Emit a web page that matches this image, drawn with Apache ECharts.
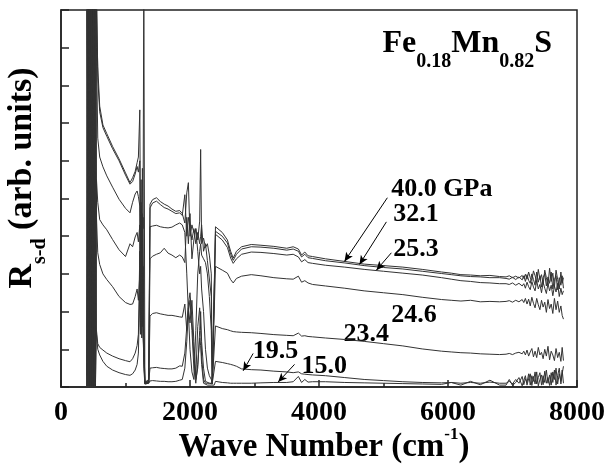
<!DOCTYPE html>
<html><head><meta charset="utf-8">
<script src="https://cdn.jsdelivr.net/npm/echarts@6/dist/echarts.min.js"></script>
<style>html,body{margin:0;padding:0;background:#fff}#c{width:608px;height:464px}</style>
</head><body><div id="c"></div>
<script>
// ---- data (wave number in cm^-1, reflectance in arbitrary units) ----
const waves = [
  400,415,430,445,460,475,490,505,520,535,550,
  570,600,650,710,800,900,1000,1070,1110,1150,1180,1200,
  1222,1232,1242,1252,1262,1272,1284,1300,1330,1360,
  1380,1420,1480,1540,1600,1660,1720,1780,1840,
  1880,1920,1950,1975,2000,2030,2060,2090,2120,2150,2165,2180,2210,2240,2270,2300,2330,2345,2375,2395,
  2420,2500,2580,2630,2670,2720,2800,2950,3100,3300,3500,3600,3680,3730,3780,3830,3900,4100,4400,4700,
  5000,5300,5600,5900,6050,6200,6350,6500,6650,6800,
  6900,6950,7000,7050,7100,7150,7175,7200,7225,7250,7275,7300,7325,7350,7375,7400,
  7425,7450,7475,7500,7525,7550,7575,7600,7625,7650,7675,7700,7725,7750,7770,7790
];
const p40_0 = [
  0,11,0.5,11,0,11,1,11,0,11,11,
  8.5,7.45,6.95,6.72,6.38,6.05,5.68,5.42,5.55,5.72,5.95,6.1,
  7.35,4.0,5.5,3.2,5.8,4.2,11,0.1,0.1,0.15,
  4.85,4.97,5.02,4.92,4.85,4.8,4.72,4.66,4.68,
  4.6,4.35,5.15,5.42,4.0,4.3,4.1,4.2,3.9,4.4,6.3,3.8,3.95,3.7,3.8,3.5,3.0,0.1,0.1,4.25,
  4.22,4.1,3.9,3.6,3.42,3.6,3.72,3.78,3.76,3.73,3.68,3.72,3.66,3.5,3.58,3.48,3.46,3.4,3.33,3.26,
  3.22,3.18,3.12,3.05,3.02,2.98,2.97,2.95,2.96,2.93,
  2.92,2.95,2.9,2.94,2.89,2.96,2.88,2.99,2.86,3.05,2.9,2.82,3.08,2.95,2.78,3.12,
  2.85,2.98,2.72,3.1,2.9,2.7,3.15,2.8,3.02,2.65,3.1,2.85,2.6,3.05,2.75,2.9
];
const p32_1 = [
  11,0,11,0,11,0.3,11,0,11,0,11,
  8.2,7.3,6.88,6.65,6.32,6.0,5.62,5.38,5.45,5.65,5.85,5.7,
  6.0,2.5,4.8,1.8,4.6,2.2,1.3,0.12,0.12,0.2,
  4.75,4.88,4.93,4.84,4.76,4.72,4.66,4.6,4.62,
  4.55,5.1,4.0,4.5,4.2,3.9,4.2,3.8,4.1,3.8,4.0,4.3,3.6,3.8,3.35,3.4,2.4,0.08,0.08,4.13,
  4.12,4.0,3.82,3.52,3.36,3.52,3.66,3.72,3.71,3.68,3.63,3.66,3.6,3.45,3.52,3.43,3.41,3.35,3.29,3.22,
  3.17,3.13,3.07,3.01,2.98,2.95,2.93,2.92,2.9,2.9,
  2.88,2.86,2.91,2.85,2.92,2.84,2.95,2.8,2.98,2.83,2.75,3.0,2.85,2.7,3.05,2.78,
  2.95,2.65,2.9,3.0,2.68,2.92,2.75,3.05,2.6,2.85,2.95,2.58,2.9,2.7,2.95,2.62
];
const p25_3 = [
  0,11,0,11,0.2,11,0,11,0.5,11,9,
  6.6,6.1,5.84,5.6,5.3,4.98,4.74,4.62,4.9,5.12,5.2,5.05,
  4.8,1.6,4.2,2.0,3.9,1.5,1.5,0.1,0.1,0.12,
  4.25,4.27,4.29,4.25,4.23,4.22,4.24,4.3,4.35,
  4.3,4.1,3.0,2.0,1.0,0.4,0.2,1.5,3.0,3.6,3.8,3.5,3.4,3.3,3.0,2.4,1.5,0.1,0.1,4.05,
  4.04,3.9,3.7,3.42,3.28,3.4,3.52,3.58,3.57,3.54,3.5,3.52,3.45,3.32,3.38,3.3,3.28,3.23,3.18,3.12,
  3.07,3.02,2.97,2.9,2.86,2.82,2.8,2.77,2.76,2.74,
  2.74,2.72,2.76,2.7,2.75,2.68,2.74,2.62,2.78,2.66,2.58,2.8,2.65,2.55,2.82,2.6,
  2.72,2.5,2.78,2.62,2.48,2.75,2.55,2.7,2.42,2.68,2.52,2.75,2.4,2.62,2.45,2.55
];
const p24_6 = [
  11,0.2,11,0,11,0,11,0.3,11,0,5.5,
  4.9,4.44,4.3,4.17,3.91,3.64,3.46,3.8,3.72,3.98,4.1,3.85,
  4.3,2.6,4.9,2.2,3.1,4.5,1.4,0.1,0.1,0.12,
  3.4,3.47,3.52,3.56,3.68,3.55,3.5,3.43,3.5,
  3.45,3.3,4.5,3.8,4.6,3.4,3.9,4.2,3.6,3.0,3.2,2.6,2.0,1.0,0.5,0.3,0.2,0.1,0.1,3.2,
  3.2,3.1,3.02,2.85,2.76,2.88,2.94,2.98,2.95,2.9,2.87,2.86,2.94,2.78,2.82,2.76,2.72,2.68,2.62,2.55,
  2.5,2.45,2.38,2.32,2.3,2.28,2.3,2.26,2.27,2.26,
  2.27,2.29,2.25,2.3,2.26,2.32,2.24,2.35,2.2,2.33,2.15,2.38,2.22,2.1,2.35,2.18,
  2.05,2.3,2.12,2.25,1.98,2.32,2.08,2.2,1.95,2.35,2.05,2.28,1.98,2.15,1.9,1.8
];
const p23_4 = [
  0,11,0,11,0,11,0.2,11,0,11,4.5,
  3.56,3.25,3.0,2.85,2.66,2.4,2.24,2.19,2.2,2.4,2.6,2.3,
  3.0,1.4,3.6,1.3,2.4,1.35,1.3,0.08,0.08,0.1,
  1.88,1.95,1.97,1.94,1.92,1.9,1.9,1.88,1.86,
  1.85,2.2,1.5,2.1,1.7,2.3,1.2,0.3,1.6,2.1,1.5,0.8,0.2,0.1,0.1,0.1,0.1,0.08,0.08,1.62,
  1.6,1.55,1.52,1.49,1.47,1.46,1.45,1.44,1.42,1.39,1.37,1.36,1.43,1.35,1.36,1.34,1.33,1.3,1.26,1.21,
  1.15,1.09,1.01,0.95,0.93,0.91,0.9,0.88,0.87,0.86,
  0.87,0.89,0.86,0.9,0.92,0.88,0.95,0.85,0.98,0.82,0.93,1.02,0.8,0.95,0.78,1.05,
  0.85,0.92,0.75,1.0,0.82,1.08,0.72,0.95,0.85,0.7,1.02,0.78,0.92,0.68,1.05,0.7
];
const p19_5 = [
  11,0,11,0.4,11,0,11,0,11,0.2,1.5,
  1.15,1.05,0.98,0.9,0.82,0.75,0.7,0.67,0.75,0.9,1.1,1.4,
  3.6,1.5,2.8,4.0,1.8,3.2,1.35,0.15,0.12,0.15,
  0.5,0.51,0.52,0.5,0.49,0.48,0.48,0.5,0.56,
  0.55,0.9,1.6,2.2,2.5,1.8,0.8,0.2,0.5,1.5,2.0,1.2,0.5,0.15,0.12,0.1,0.1,0.1,0.1,0.68,
  0.68,0.65,0.62,0.6,0.58,0.55,0.48,0.46,0.45,0.42,0.4,0.38,0.4,0.35,0.34,0.33,0.32,0.3,0.25,0.2,
  0.17,0.14,0.12,0.11,0.12,0.1,0.12,0.1,0.13,0.1,
  0.1,0.15,0.08,0.2,0.1,0.28,0.06,0.22,0.12,0.35,0.05,0.3,0.15,0.4,0.08,0.25,
  0.38,0.05,0.3,0.12,0.45,0.1,0.32,0.05,0.4,0.2,0.5,0.08,0.35,0.15,0.45,0.1
];
const p15_0 = [
  0.3,11,0,11,0,11,0,11,0,11,1.4,
  1.0,0.85,0.68,0.55,0.45,0.38,0.33,0.31,0.35,0.45,0.6,0.9,
  2.6,4.2,1.4,3.0,1.6,2.5,0.5,0.08,0.08,0.1,
  0.16,0.17,0.16,0.15,0.15,0.14,0.14,0.15,0.18,
  0.2,0.5,1.2,2.0,2.3,1.5,0.5,0.1,0.6,1.3,1.1,0.6,0.1,0.05,0.05,0.05,0.05,0.05,0.05,0.15,
  0.14,0.12,0.11,0.1,0.1,0.1,0.1,0.1,0.11,0.12,0.12,0.14,0.28,0.12,0.2,0.13,0.14,0.14,0.12,0.11,
  0.1,0.09,0.08,0.07,0.12,0.05,0.15,0.06,0.18,0.05,
  0.05,0.2,0.04,0.12,0.25,0.03,0.18,0.3,0.05,0.22,0.35,0.04,0.28,0.08,0.4,0.03,
  0.2,0.32,0.06,0.42,0.1,0.25,0.04,0.38,0.12,0.45,0.05,0.3,0.5,0.08,0.35,0.55
];
const seriesNames = ['40.0 GPa','32.1','25.3','24.6','23.4','19.5','15.0'];
const seriesValues = [p40_0, p32_1, p25_3, p24_6, p23_4, p19_5, p15_0];

// annotation labels (data coordinates of left/middle of text)
const labelText  = ['40.0 GPa','32.1','25.3','24.6','23.4','19.5','15.0'];
const labelWave  = [5122, 5153, 5153, 5122, 4379, 2971, 3729];
const labelValue = [5.25, 4.58, 3.64, 1.91, 1.40, 0.94, 0.56];
// arrows pointing from labels to curves
const arrowFrom = [[5060,5.02],[5045,4.38],[5122,3.56],[2979,0.89],[3621,0.60]];
const arrowTo   = [[4395,3.33],[4627,3.25],[4890,3.10],[2824,0.43],[3366,0.13]];

// ---- chart ----
const FONT = 'Liberation Serif';
const INK = '#222';
const chart = echarts.init(document.getElementById('c'), null, {renderer:'canvas', width:608, height:464});

const series = seriesValues.map((vals, k) => ({
  type:'line', name: seriesNames[k],
  data: waves.map((w, i) => [w, vals[i]]),
  showSymbol:false, symbol:'none', clip:true, animation:false,
  lineStyle:{color:'#333', width:1},
  emphasis:{disabled:true}, z:2
}));
series[0].markLine = {
  silent:true, animation:false, symbol:['none','arrow'], symbolSize:[6,9],
  lineStyle:{color:'#000', width:1, type:'solid'}, label:{show:false}, emphasis:{disabled:true},
  data: arrowFrom.map((f, i) => [{coord:f}, {coord:arrowTo[i]}])
};

chart.setOption({
  animation:false,
  grid:{left:61, right:30, top:10, bottom:77, show:true, borderColor:INK, borderWidth:1.5, backgroundColor:'transparent'},
  xAxis:{
    type:'value', min:0, max:8000, interval:2000,
    axisLine:{show:true, lineStyle:{color:INK, width:1.5}},
    axisTick:{show:true, inside:true, length:7, lineStyle:{color:INK, width:1.5}},
    minorTick:{show:true, splitNumber:2, length:4, lineStyle:{color:INK, width:1.5}},
    splitLine:{show:false}, minorSplitLine:{show:false},
    axisLabel:{show:true, margin:12, color:'#000', fontSize:28, fontWeight:'bold', fontFamily:FONT,
      showMinLabel:true, showMaxLabel:true, formatter: v => String(v)}
  },
  yAxis:{
    type:'value', min:0, max:10, interval:1,
    axisLine:{show:true, lineStyle:{color:INK, width:1.5}},
    axisTick:{show:true, inside:true, length:8, lineStyle:{color:INK, width:1.5}},
    axisLabel:{show:false}, splitLine:{show:false}
  },
  series
});

// ---- text annotations ----
const mctx = document.createElement('canvas').getContext('2d');
function tw(t, size){ mctx.font = 'bold ' + size + 'px "' + FONT + '"'; return mctx.measureText(t).width; }
const MID = 0.32;
function piece(text, size, x, baseline){
  return {type:'text', x:x, y: baseline - MID*size, silent:true,
    style:{text:text, fontSize:size, fontWeight:'bold', fontFamily:FONT, fill:'#000', align:'left', verticalAlign:'middle'}};
}
function runPieces(parts, startX, baseline){
  const out = []; let x = startX;
  parts.forEach(p => { out.push(piece(p[0], p[1], x, baseline + p[2])); x += tw(p[0], p[1]); });
  return out;
}
function runWidth(parts){ return parts.reduce((s,p)=>s+tw(p[0],p[1]),0); }

const els = [];
labelText.forEach((t, i) => {
  const pt = chart.convertToPixel({gridIndex:0}, [labelWave[i], labelValue[i]]);
  els.push({type:'text', x:pt[0], y:pt[1], silent:true,
    style:{text:t, fontSize:26, fontWeight:'bold', fontFamily:FONT, fill:'#000', align:'left', verticalAlign:'middle'}});
});
const titleParts = [['Fe',32,0],['0.18',20,14.3],['Mn',32,0],['0.82',20,14.3],['S',32,0]];
const gridRight = chart.convertToPixel({gridIndex:0},[8000,10])[0];
runPieces(titleParts, gridRight - 25 - runWidth(titleParts), 54).forEach(e=>els.push(e));
const xParts = [['Wave Number (cm',33,0],['-1',17,-18.5],[')',33,0]];
runPieces(xParts, 324 - runWidth(xParts)/2, 458.5).forEach(e=>els.push(e));
const yParts = [['R',34,0],['s-d',20,13],[' (arb. units)',34,0]];
els.push({type:'group', x:33.5, y:178 + runWidth(yParts)/2, rotation:Math.PI/2, children:runPieces(yParts, 0, 0), silent:true});

chart.setOption({graphic:{elements:els}});
</script></body></html>
